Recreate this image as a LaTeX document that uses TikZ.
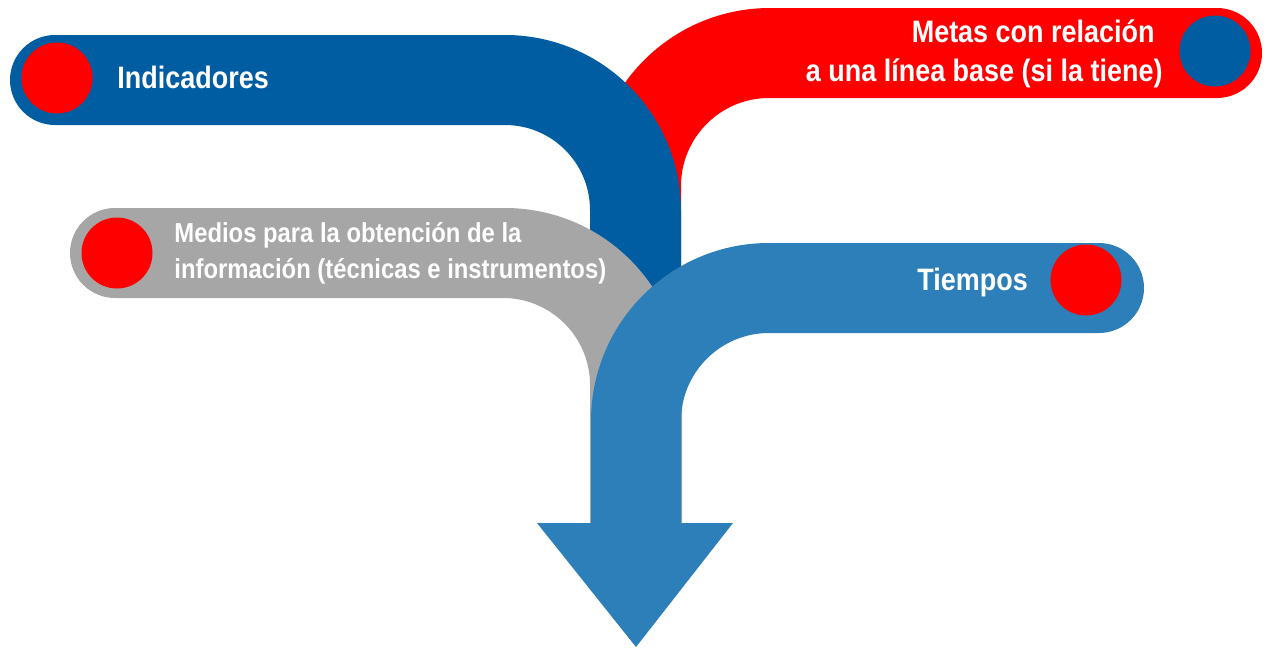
\documentclass[tikz,border=0pt]{standalone}
\usepackage{fontspec}
\setmainfont{Liberation Sans}[FakeStretch=0.87]
\definecolor{dblue}{RGB}{0,93,162}
\definecolor{lblue}{RGB}{44,127,184}
\definecolor{greyband}{RGB}{166,166,166}
\definecolor{pred}{RGB}{255,0,0}
\begin{document}
\begin{tikzpicture}[x=0.5pt,y=-0.5pt,
  lbl/.style={inner sep=0pt,text=white,font=\bfseries\fontsize{15.5pt}{20pt}\selectfont},
  dot/.style={circle,inner sep=0pt,minimum size=35.5pt}]
\useasboundingbox (0,0) rectangle (1266,648);
% red band (Metas)
\fill[pred] (1217,8) -- (770,8) arc[start angle=-90,end angle=-180,radius=178]
  -- (592,300) -- (681,300) -- (681,186) arc[start angle=180,end angle=270,radius=88]
  -- (1217,98) arc[start angle=90,end angle=-90,radius=45] -- cycle;
% dark blue band (Indicadores)
\fill[dblue] (55,35) -- (505,35) arc[start angle=-90,end angle=0,radius=176]
  -- (681,310) -- (590,310) -- (590,210) arc[start angle=0,end angle=-90,radius=85]
  -- (55,125) arc[start angle=90,end angle=270,radius=45] -- cycle;
% grey band (Medios)
\fill[greyband] (115,208) -- (505,208) arc[start angle=-90,end angle=0,radius=177]
  -- (682,523) -- (590,523) -- (590,385) arc[start angle=0,end angle=-90,radius=87]
  -- (115,298) arc[start angle=90,end angle=270,radius=45] -- cycle;
% light blue arrow (Tiempos)
\fill[lblue] (1099,243) -- (769,243) arc[start angle=-90,end angle=-180,radius=178]
  -- (591,523) -- (537,523) -- (636,647) -- (733,523) -- (681,523)
  -- (681,421) arc[start angle=180,end angle=270,radius=88]
  -- (1099,333) arc[start angle=90,end angle=-90,radius=45] -- cycle;
% dots
\node[dot,fill=pred] (d1) at (57,78) {};
\node[dot,fill=dblue] (d2) at (1215,51) {};
\node[dot,fill=pred] (d3) at (117,253) {};
\node[dot,fill=pred] (d4) at (1086,280) {};
% labels
\node[lbl,anchor=base west] (t1) at (117,89) {Indicadores};
\node[lbl,anchor=base east,align=right] (t2) at (1163,82) {Metas con relación\hspace*{4pt}\\a una línea base (si la tiene)};
\node[lbl,anchor=base west,align=left,font=\bfseries\fontsize{13.7pt}{17.5pt}\selectfont] (t3) at (174,278) {Medios para la obtención de la\\información (técnicas e instrumentos)};
\node[lbl,anchor=base west] (t4) at (917,290) {Tiempos};
\end{tikzpicture}
\end{document}
